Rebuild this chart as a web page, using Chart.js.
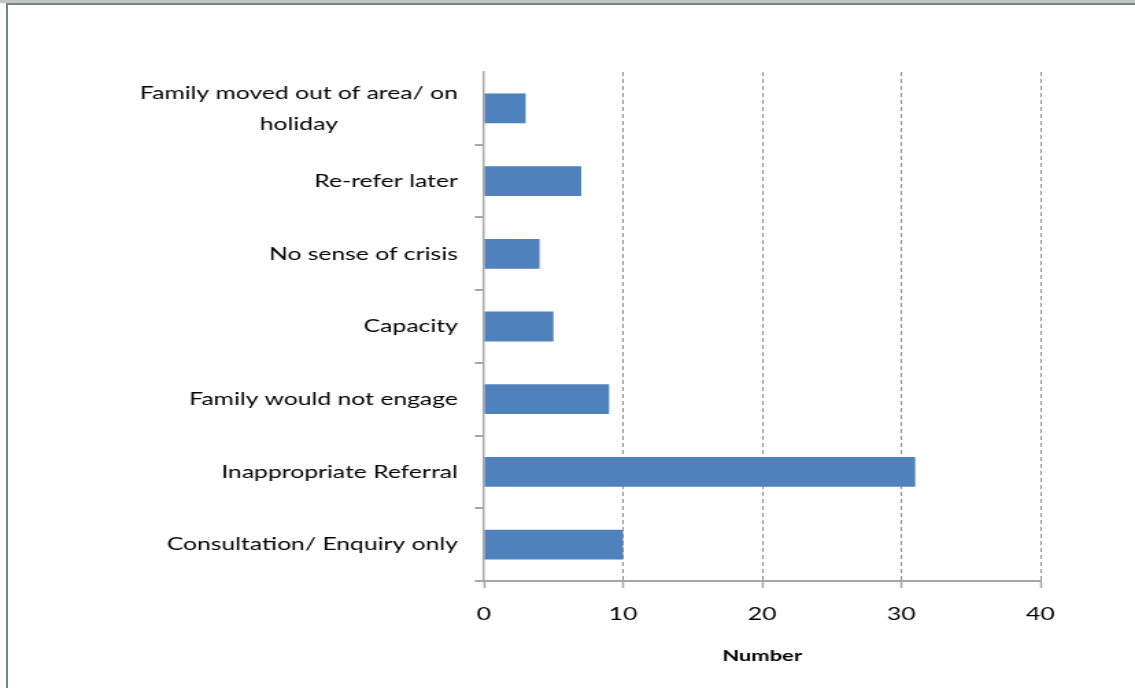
<!DOCTYPE html>
<html>
<head>
<meta charset="utf-8">
<script src="https://cdn.jsdelivr.net/npm/chart.js@4.4.0/dist/chart.umd.min.js"></script>
<style>
  html, body { margin: 0; padding: 0; background: #fff; }
  #wrap { position: relative; width: 1135px; height: 688px; overflow: hidden; }
  /* the original picture is stretched sideways, so the canvas is too */
  #stretch { position: absolute; left: 0; top: 0; width: 828px; height: 688px;
             transform: scaleX(1.3708); transform-origin: 0 0; }
  #band { position: absolute; left: 0; top: 0; width: 1135px; height: 3px; background: #c4c4c4; }
  #frameTop { position: absolute; left: 6px; top: 3px; width: 1129px; height: 2px; background: #6f8a7b; }
  #frameLeft { position: absolute; left: 6px; top: 3px; width: 2px; height: 685px; background: #6f8a7b; }
</style>
</head>
<body>
<div id="wrap">
  <div id="stretch"><canvas id="chart" width="828" height="688"></canvas></div>
  <div id="band"></div>
  <div id="frameTop"></div>
  <div id="frameLeft"></div>
</div>
<script>
// categories top to bottom
const categories = [
  ['Family moved out of area/ on', 'holiday' + ' '.repeat(19)],
  'Re-refer later',
  'No sense of crisis',
  'Capacity',
  'Family would not engage',
  'Inappropriate Referral',
  'Consultation/ Enquiry only'
];
const counts = [3, 7, 4, 5, 9, 31, 10];
const xTicks = [0, 10, 20, 30, 40];
const xTitle = 'Number';

const font = "Lato, 'Open Sans', sans-serif";

var ctx = document.getElementById('chart').getContext('2d');

new Chart(ctx, {
  type: 'bar',
  data: {
    labels: categories,
    datasets: [{
      data: counts,
      backgroundColor: '#4f81bd',
      borderWidth: 0,
      barPercentage: 0.41,
      categoryPercentage: 1
    }]
  },
  options: {
    indexAxis: 'y',
    responsive: false,
    animation: false,
    layout: { padding: { top: 72, right: 69, left: 0, bottom: 0 } },
    plugins: {
      legend: { display: false },
      tooltip: { enabled: false }
    },
    scales: {
      x: {
        min: xTicks[0],
        max: xTicks[xTicks.length - 1],
        afterBuildTicks: (scale) => {
          scale.ticks = xTicks.map(v => ({ value: v }));
        },
        afterFit: (scale) => { scale.height = 107; },
        grid: {
          color: (c) => (c.tick && c.tick.value === 0) ? 'rgba(0,0,0,0)' : '#8a8a8a',
          lineWidth: 1,
          tickColor: '#a6a6a6',
          tickLength: 7,
          tickWidth: 1.5,
          tickBorderDash: []
        },
        border: { display: true, color: '#a6a6a6', width: 2, dash: [4, 3] },
        ticks: {
          padding: 15,
          color: '#000',
          font: { family: font, size: 18 }
        }, 
        title: {
          display: true,
          text: xTitle,
          color: '#000',
          font: { family: font, size: 16, weight: 'bold' },
          padding: { top: 4, bottom: 23 }
        }
      },
      y: {
        afterFit: (scale) => { scale.width = 353; },
        grid: {
          drawOnChartArea: false,
          // no tick mark at the very top, like the original
          color: (c) => c.index === 0 ? 'rgba(0,0,0,0)' : '#a6a6a6',
          tickLength: 6.6,
          lineWidth: 2,
          offset: true
        },
        border: { display: true, color: '#a6a6a6', width: 1.5 },
        ticks: {
          padding: 12.4,
          color: '#000',
          font: { family: font, size: 18, lineHeight: 1.72 }
        }
      }
    }
  }
});
</script>
</body>
</html>
